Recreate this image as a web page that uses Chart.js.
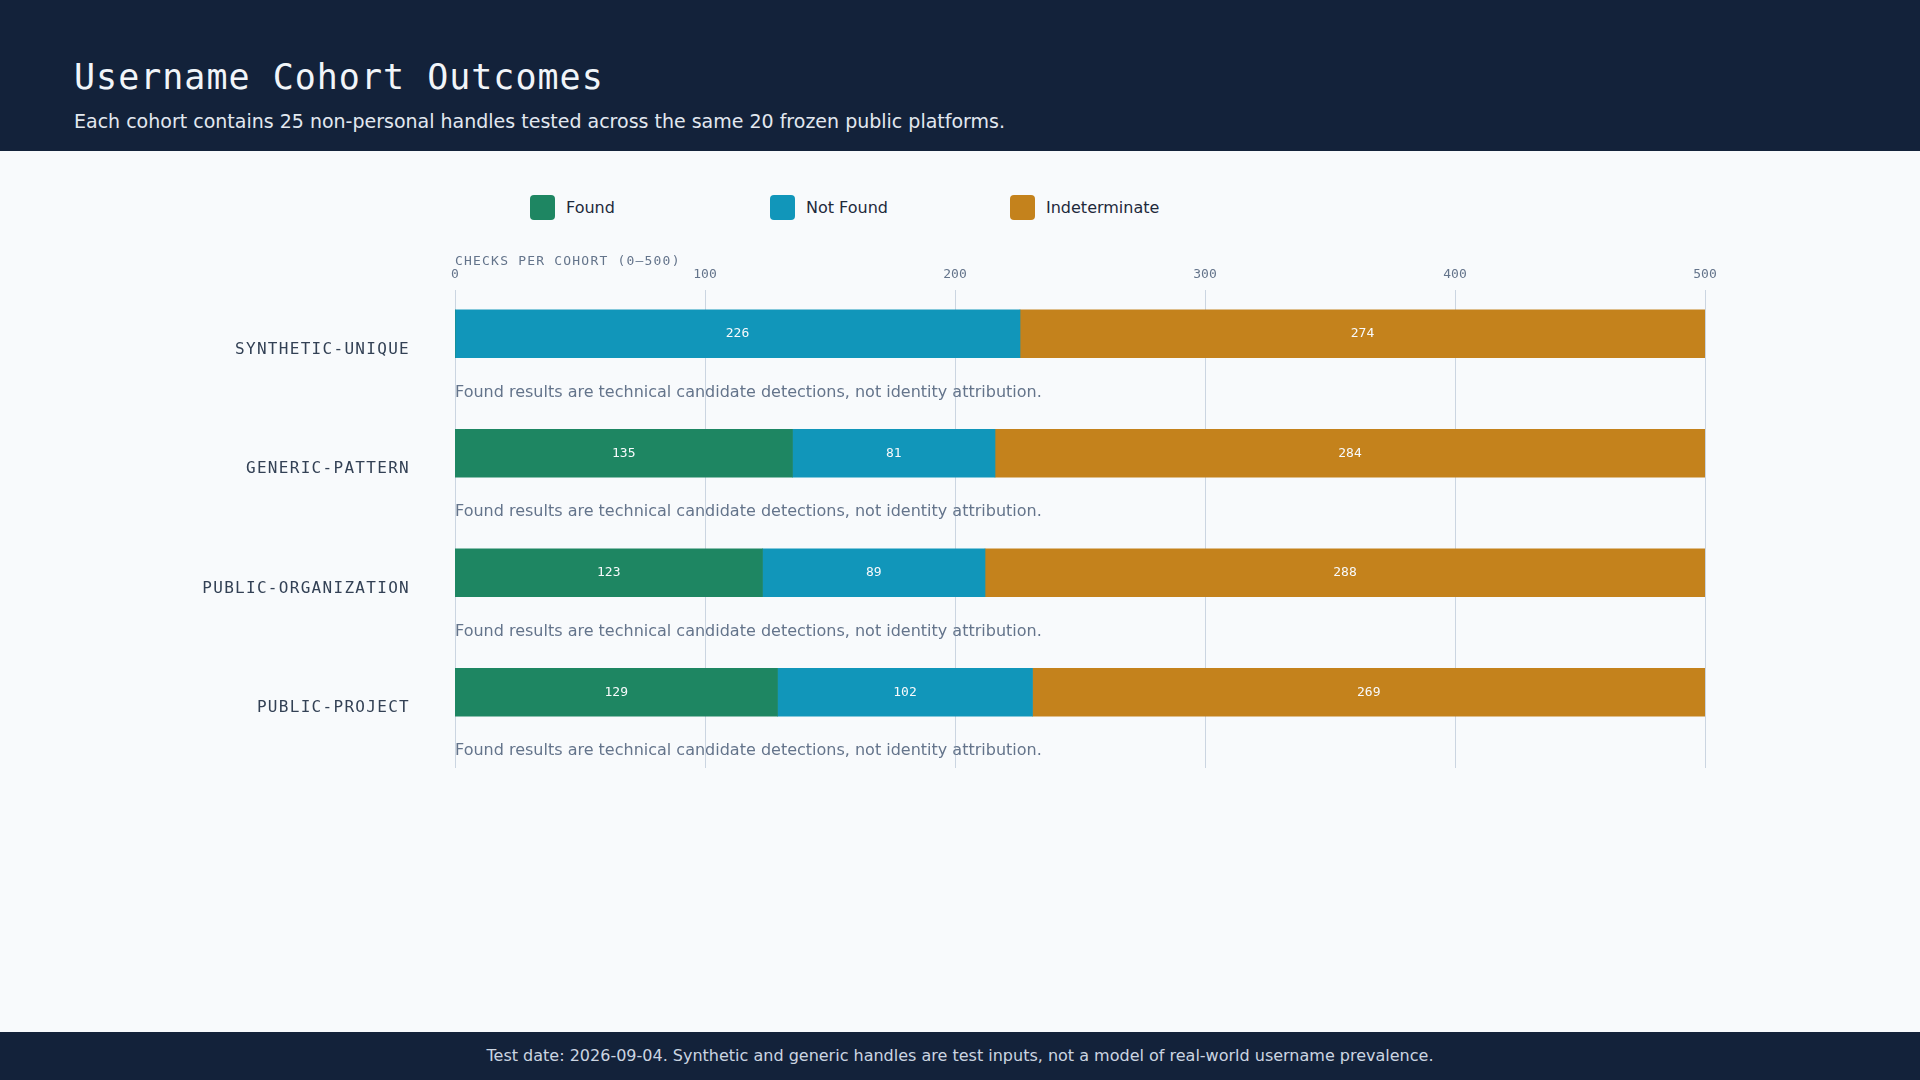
<!DOCTYPE html>
<html><head><meta charset="utf-8">
<script src="https://cdn.jsdelivr.net/npm/chart.js@4"></script>
<style>
body{margin:0;width:1920px;height:1080px;background:#f8fafc;position:relative;overflow:hidden;font-family:"DejaVu Sans",sans-serif}
#hdr{position:absolute;left:0;top:0;width:1920px;height:151px;background:#13223a}
#t{position:absolute;left:74px;top:57px;font-family:"DejaVu Sans Mono",monospace;font-size:35px;color:#f1f5f9;letter-spacing:1px}
#s{position:absolute;left:74px;top:110px;font-size:19px;color:#e2e8f0}
#ftr{position:absolute;left:0;top:1032px;width:1920px;height:48px;background:#13223a;color:#cbd5e1;font-size:16px;text-align:center;line-height:48px}
.lg{position:absolute;top:195px;font-size:16px;color:#1e293b;display:flex;align-items:center}
.lg i{display:inline-block;width:25px;height:25px;border-radius:4px;margin-right:11px}
canvas{position:absolute;left:0;top:0}
</style></head><body>
<div id="hdr"><div id="t">Username Cohort Outcomes</div><div id="s">Each cohort contains 25 non-personal handles tested across the same 20 frozen public platforms.</div></div>
<div class="lg" style="left:530px"><i style="background:#1e8662"></i>Found</div>
<div class="lg" style="left:770px"><i style="background:#1196ba"></i>Not Found</div>
<div class="lg" style="left:1010px"><i style="background:#c4821c"></i>Indeterminate</div>
<div style="position:absolute;left:0;top:151px;width:1920px;height:881px"><canvas id="c" width="1920" height="881"></canvas></div>
<div id="ftr">Test date: 2026-09-04. Synthetic and generic handles are test inputs, not a model of real-world username prevalence.</div>
<script>
const categories=["SYNTHETIC-UNIQUE","GENERIC-PATTERN","PUBLIC-ORGANIZATION","PUBLIC-PROJECT"];
const found=[0,135,123,129];
const notFound=[226,81,89,102];
const indeterminate=[274,284,288,269];
const ticks=[0,100,200,300,400,500];
const note="Found results are technical candidate detections, not identity attribution.";
const mono='"DejaVu Sans Mono",monospace';
const deco={id:'deco',
beforeDatasetsDraw(ch){const c=ch.ctx,x=ch.scales.x;c.save();
 c.strokeStyle='#cbd5e1';c.lineWidth=1;
 ticks.forEach(t=>{const px=Math.round(x.getPixelForValue(t))+0.5;c.beginPath();c.moveTo(px,139);c.lineTo(px,617);c.stroke();});
 c.fillStyle='#64748b';c.font='13px '+mono;c.textAlign='center';c.textBaseline='middle';
 ticks.forEach(t=>c.fillText(String(t),x.getPixelForValue(t),124));
 c.textAlign='left';c.letterSpacing='1.2px';c.fillText('CHECKS PER COHORT (0–500)',x.getPixelForValue(0),111);c.letterSpacing='0px';
 const y=ch.scales.y;
 categories.forEach((k,i)=>{const py=y.getPixelForValue(i);
  c.fillStyle='#334155';c.font='16px '+mono;c.textAlign='right';c.letterSpacing='1.3px';c.fillText(k,410,py+16);c.letterSpacing='0px';
  c.fillStyle='#64748b';c.font='16px "DejaVu Sans",sans-serif';c.textAlign='left';c.fillText(note,x.getPixelForValue(0),py+59);});
 c.restore();},
afterDatasetsDraw(ch){const c=ch.ctx;c.save();c.font='13px '+mono;c.fillStyle='#f8fafc';c.textAlign='center';c.textBaseline='middle';
 ch.data.datasets.forEach((d,di)=>{ch.getDatasetMeta(di).data.forEach((b,i)=>{if(d.data[i]>0){c.fillText(String(d.data[i]),(b.x+b.base)/2,b.y);}});});c.restore();}
};
new Chart(document.getElementById('c'),{type:'bar',
data:{labels:categories,datasets:[
{label:'Found',data:found,backgroundColor:'#1e8662'},
{label:'Not Found',data:notFound,backgroundColor:'#1196ba'},
{label:'Indeterminate',data:indeterminate,backgroundColor:'#c4821c'}]},
options:{indexAxis:'y',responsive:false,animation:false,barThickness:48,
 layout:{padding:{left:455,right:215,top:123,bottom:280}},
 plugins:{legend:{display:false},tooltip:{enabled:false}},
 scales:{x:{stacked:true,min:0,max:500,display:false},y:{stacked:true,display:false}}},
plugins:[deco]});
</script></body></html>
